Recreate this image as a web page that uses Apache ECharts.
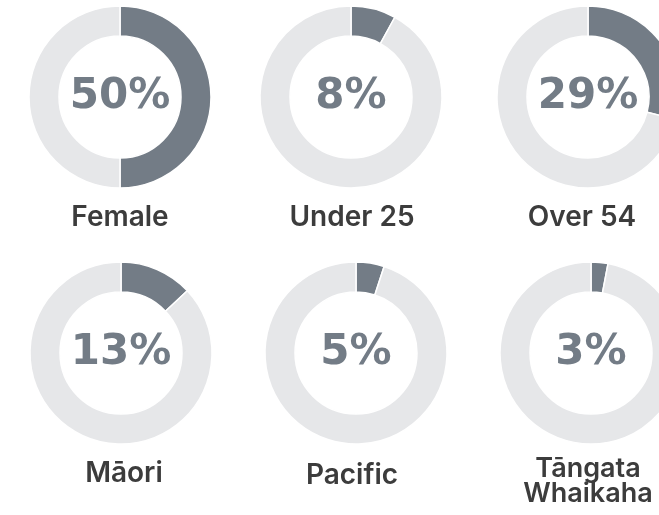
<!DOCTYPE html>
<html>
<head>
<meta charset="utf-8">
<script src="https://cdn.jsdelivr.net/npm/echarts@6/dist/echarts.min.js"></script>
<style>
  html, body { margin: 0; padding: 0; background: #fff; }
  #chart { width: 659px; height: 515px; }
</style>
</head>
<body>
<div id="chart"></div>
<script>
// share of each group, in percent
var categories = ["Female", "Under 25", "Over 54", "Māori", "Pacific", "Tāngata\nWhaikaha"];
var shares = [50, 8, 29, 13, 5, 3];

// where each donut sits (px) and where its caption goes
var centers = [[120, 97], [351, 97], [588, 97], [121, 353], [356, 353], [591, 353]];
var captionPos = [[120, 218], [352, 218], [582, 218], [124, 474], [352, 476], [588, 481]];

var DARK = "#737c86";
var LIGHT = "#e6e7e9";

var myChart = echarts.init(document.getElementById("chart"));

var series = shares.map(function (v, i) {
  return {
    type: "pie",
    center: centers[i],
    radius: [61, 91],
    startAngle: 90,
    clockwise: true,
    silent: true,
    emphasis: { disabled: true },
    label: { show: false },
    labelLine: { show: false },
    itemStyle: { borderColor: "#fff", borderWidth: 1.5 },
    data: [
      {
        value: v,
        itemStyle: { color: DARK },
        label: {
          show: true,
          position: "center",
          formatter: "{c}%",
          color: DARK,
          fontFamily: "DejaVu Sans",
          fontWeight: "bold",
          fontSize: 42
        }
      },
      { value: 100 - v, itemStyle: { color: LIGHT } }
    ]
  };
});

var captions = categories.map(function (c, i) {
  var twoLines = c.indexOf("\n") >= 0;
  return {
    type: "text",
    x: captionPos[i][0],
    y: captionPos[i][1],
    silent: true,
    style: {
      text: c,
      textAlign: "center",
      textVerticalAlign: "middle",
      fill: "#3c3c3c",
      font: (twoLines ? "600 27px" : "600 28px") + " Inter",
      lineHeight: twoLines ? 25 : 30
    }
  };
});

myChart.setOption({
  animation: false,
  series: series,
  graphic: captions
});
</script>
</body>
</html>
